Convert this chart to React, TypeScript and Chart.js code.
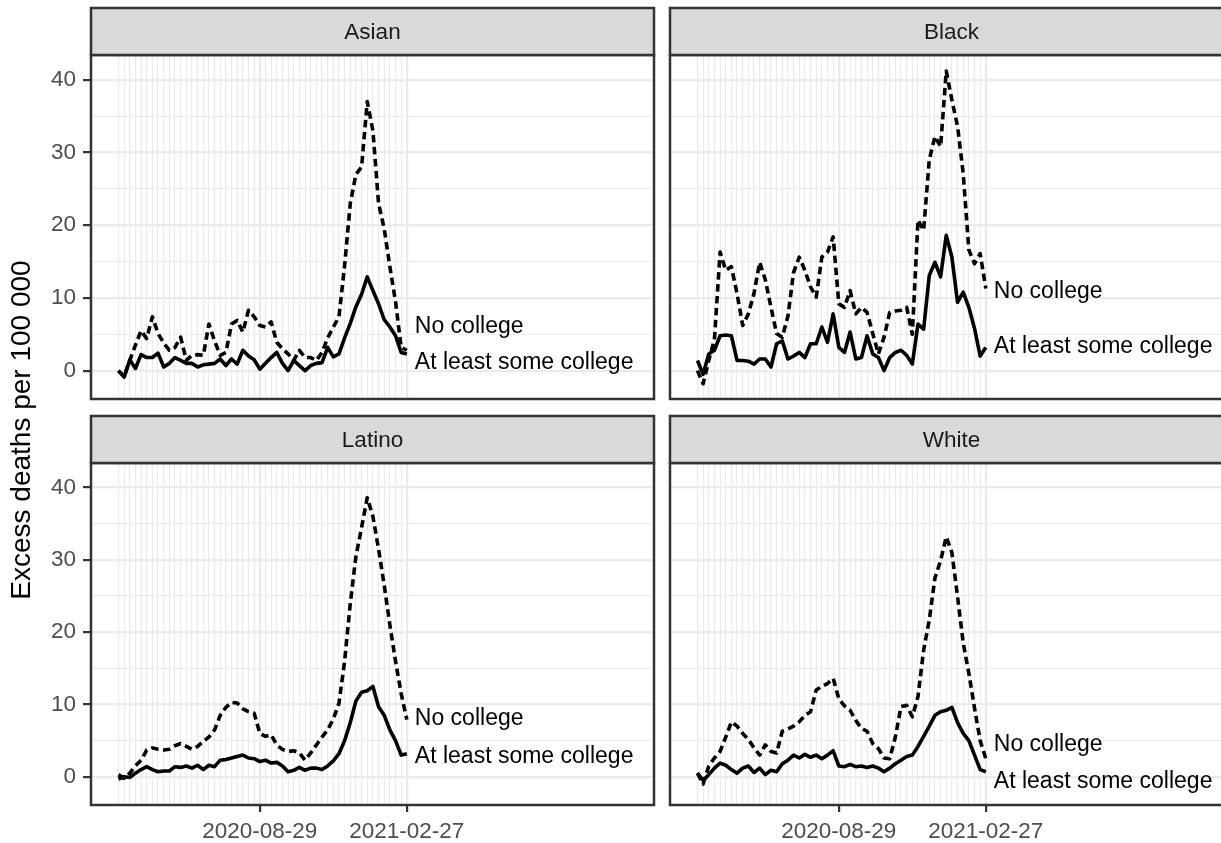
import React, { useEffect, useRef } from 'react';
import { Chart, registerables } from 'chart.js';

Chart.register(...registerables);

const FONT = "'Liberation Sans', Arial, 'DejaVu Sans', sans-serif";

// ---------- data ----------
const DATES = [
  '2020-03-07', '2020-03-14', '2020-03-21', '2020-03-28', '2020-04-04', '2020-04-11', '2020-04-18', '2020-04-25',
  '2020-05-02', '2020-05-09', '2020-05-16', '2020-05-23', '2020-05-30', '2020-06-06', '2020-06-13', '2020-06-20',
  '2020-06-27', '2020-07-04', '2020-07-11', '2020-07-18', '2020-07-25', '2020-08-01', '2020-08-08', '2020-08-15',
  '2020-08-22', '2020-08-29', '2020-09-05', '2020-09-12', '2020-09-19', '2020-09-26', '2020-10-03', '2020-10-10',
  '2020-10-17', '2020-10-24', '2020-10-31', '2020-11-07', '2020-11-14', '2020-11-21', '2020-11-28', '2020-12-05',
  '2020-12-12', '2020-12-19', '2020-12-26', '2021-01-02', '2021-01-09', '2021-01-16', '2021-01-23', '2021-01-30',
  '2021-02-06', '2021-02-13', '2021-02-20', '2021-02-27',
];
const MAJOR_DATES = ['2020-08-29', '2021-02-27'];
const X_LIMITS = ['2020-02-02', '2021-12-30'];
const Y_LIMITS = [-3.9, 43.4];
const Y_TICKS = [0, 5, 10, 15, 20, 25, 30, 35, 40];
const Y_LABELED = [0, 10, 20, 30, 40];
const Y_TITLE = 'Excess deaths per 100 000';
const SERIES_NAMES = ['No college', 'At least some college'];
const GROUPS = ['Asian', 'Black', 'Latino', 'White'];

const asianNoCollege = [0, -0.8, 1.4, 3.5, 5.5, 4.4, 7.4, 5.1, 3.8, 2.8, 3.2, 4.6, 1.4, 2.1, 2.2, 2.1, 6.4, 4.1, 2.1, 2.5, 6.4, 6.9, 5.3, 8.3, 7.4, 6.2, 6.0, 6.7, 3.9, 3.0, 2.3, 1.4, 2.8, 1.8, 1.8, 1.4, 2.5, 4.5, 6.0, 7.4, 14.5, 23.0, 27.0, 28.0, 37.0, 33.0, 23.0, 19.5, 14.3, 9.5, 3.2, 2.8];
const asianSomeCollege = [0, -0.9, 1.5, 0.3, 2.2, 1.8, 1.8, 2.4, 0.5, 1.0, 1.8, 1.4, 1.0, 1.0, 0.5, 0.8, 0.9, 1.0, 1.6, 0.7, 1.6, 0.9, 2.8, 2.0, 1.5, 0.2, 1.0, 1.8, 2.5, 1.0, 0.0, 1.4, 0.7, 0.0, 0.7, 1.0, 1.1, 3.2, 1.9, 2.3, 4.5, 6.5, 8.8, 10.5, 12.9, 11.0, 9.2, 7.0, 6.0, 4.8, 2.5, 2.3];
const blackNoCollege = [0, -1.8, 1.4, 4.3, 16.3, 13.8, 14.3, 10.6, 6.2, 7.8, 10.6, 14.9, 12.5, 8.7, 5.1, 4.6, 7.5, 13.5, 15.6, 13.8, 11.5, 10.1, 15.6, 16.3, 18.4, 9.2, 8.7, 11.0, 7.8, 8.7, 8.0, 5.1, 2.3, 4.6, 8.0, 8.2, 8.3, 8.7, 5.0, 20.7, 19.3, 29.0, 32.2, 30.8, 41.2, 37.2, 33.6, 27.1, 16.6, 14.7, 16.1, 11.3];
const blackSomeCollege = [1.4, -0.5, 2.3, 2.8, 4.8, 4.9, 4.8, 1.4, 1.4, 1.3, 0.9, 1.6, 1.6, 0.5, 3.7, 4.1, 1.6, 2.0, 2.5, 1.8, 3.7, 3.7, 6.0, 3.9, 7.8, 3.2, 2.5, 5.3, 1.6, 1.8, 4.8, 2.3, 1.8, 0.0, 1.8, 2.5, 2.8, 2.1, 0.9, 6.4, 5.7, 13.1, 14.9, 12.9, 18.6, 15.6, 9.4, 10.8, 8.7, 5.8, 2.0, 3.2];
const latinoNoCollege = [0.3, -0.2, 0.5, 1.5, 2.3, 3.7, 4.0, 3.8, 3.7, 3.8, 4.3, 4.6, 4.2, 3.8, 4.2, 4.9, 5.5, 6.5, 8.5, 9.6, 10.3, 10.2, 9.4, 9.0, 8.8, 6.0, 5.6, 5.8, 4.4, 3.8, 3.5, 3.6, 3.3, 2.3, 3.3, 4.4, 5.5, 6.5, 8.0, 10.2, 16.0, 24.0, 30.5, 34.5, 38.6, 36.0, 31.5, 26.5, 21.0, 16.0, 11.5, 7.9];
const latinoSomeCollege = [-0.3, 0.0, -0.1, 0.5, 1.0, 1.4, 1.0, 0.7, 0.8, 0.8, 1.4, 1.3, 1.5, 1.2, 1.6, 1.0, 1.6, 1.4, 2.3, 2.4, 2.6, 2.8, 3.0, 2.6, 2.5, 2.1, 2.3, 1.9, 2.0, 1.5, 0.7, 0.9, 1.3, 0.9, 1.2, 1.2, 1.0, 1.5, 2.2, 3.2, 5.0, 7.5, 10.5, 11.7, 11.9, 12.5, 9.7, 8.5, 6.5, 5.0, 3.0, 3.2];
const whiteNoCollege = [0.5, -1.0, 1.5, 2.6, 3.5, 5.5, 7.6, 7.0, 6.0, 5.2, 4.0, 3.0, 4.4, 3.5, 3.3, 6.3, 6.6, 7.0, 7.6, 8.5, 9.0, 12.0, 12.5, 12.9, 13.6, 10.8, 9.8, 9.2, 7.8, 6.7, 6.3, 4.6, 3.9, 2.6, 2.5, 5.5, 9.7, 9.9, 8.3, 11.1, 17.5, 21.7, 27.5, 29.9, 33.2, 31.0, 24.9, 18.5, 14.3, 9.5, 5.0, 2.5];
const whiteSomeCollege = [0.5, -0.5, 0.3, 1.2, 1.9, 1.6, 1.0, 0.5, 1.2, 1.5, 0.6, 1.2, 0.3, 0.9, 0.7, 1.8, 2.3, 3.0, 2.6, 3.1, 2.7, 3.0, 2.5, 3.0, 3.6, 1.5, 1.4, 1.7, 1.4, 1.5, 1.3, 1.5, 1.2, 0.7, 1.2, 1.8, 2.3, 2.8, 3.0, 4.2, 5.6, 7.0, 8.5, 9.0, 9.2, 9.6, 7.5, 6.0, 5.0, 3.0, 1.0, 0.7];

// y positions (data units) of the direct labels [No college, At least some college]
const asianLabelY = [6.1, 1.05];
const blackLabelY = [10.9, 3.3];
const latinoLabelY = [8.1, 2.8];
const whiteLabelY = [4.4, -0.7];

// ---------- layout ----------
const CW = 1240;
const CH = 843;
const PANEL_W = 563;
const STRIP_H = 47;
const Y_AXIS_W = 91;
const X_AXIS_H = 38;

const toDay = (s: string) => {
  const [y, m, d] = s.split('-').map(Number);
  return Date.UTC(y, m - 1, d) / 86400000;
};
const xDays = DATES.map(toDay);
const majorDays = MAJOR_DATES.map(toDay);

type Panel = {
  group: string;
  noCollege: number[];
  someCollege: number[];
  labelY: number[];
  left: number;
  top: number;
  bottom: number;
  showX: boolean;
  showY: boolean;
  title: boolean;
};

const PANELS: Panel[] = [
  { group: GROUPS[0], noCollege: asianNoCollege, someCollege: asianSomeCollege, labelY: asianLabelY, left: 91, top: 55, bottom: 399, showX: false, showY: true, title: true },
  { group: GROUPS[1], noCollege: blackNoCollege, someCollege: blackSomeCollege, labelY: blackLabelY, left: 670, top: 55, bottom: 399, showX: false, showY: false, title: false },
  { group: GROUPS[2], noCollege: latinoNoCollege, someCollege: latinoSomeCollege, labelY: latinoLabelY, left: 91, top: 463, bottom: 805, showX: true, showY: true, title: false },
  { group: GROUPS[3], noCollege: whiteNoCollege, someCollege: whiteSomeCollege, labelY: whiteLabelY, left: 670, top: 463, bottom: 805, showX: true, showY: false, title: false },
];

function makeChart(canvas: HTMLCanvasElement, p: Panel) {
  const yW = p.showY ? Y_AXIS_W : 0;
  const xH = p.showX ? X_AXIS_H : 0;
  const deco = {
    id: 'deco' + p.group,
    afterDraw(chart: any) {
      const { ctx, chartArea: a } = chart;
      ctx.save();
      // panel border
      ctx.strokeStyle = '#333333';
      ctx.lineWidth = 2.5;
      ctx.strokeRect(a.left, a.top, a.right - a.left, a.bottom - a.top);
      // strip
      ctx.fillStyle = '#D9D9D9';
      ctx.fillRect(a.left, a.top - STRIP_H, a.right - a.left, STRIP_H);
      ctx.strokeRect(a.left, a.top - STRIP_H, a.right - a.left, STRIP_H);
      ctx.fillStyle = '#1A1A1A';
      ctx.font = `22.5px ${FONT}`;
      ctx.textAlign = 'center';
      ctx.textBaseline = 'middle';
      ctx.fillText(p.group, (a.left + a.right) / 2, a.top - STRIP_H / 2 + 1);
      // direct labels
      const xs = chart.scales.x;
      const ys = chart.scales.y;
      const lx = xs.getPixelForValue(xDays[xDays.length - 1]) + 8;
      ctx.fillStyle = '#000000';
      ctx.textAlign = 'left';
      ctx.font = `23px ${FONT}`;
      SERIES_NAMES.forEach((name, k) => {
        ctx.fillText(name, lx, ys.getPixelForValue(p.labelY[k]));
      });
      // global y title
      if (p.title) {
        ctx.translate(22, 430);
        ctx.rotate(-Math.PI / 2);
        ctx.font = `28px ${FONT}`;
        ctx.textAlign = 'center';
        ctx.textBaseline = 'middle';
        ctx.fillText(Y_TITLE, 0, 0);
      }
      ctx.restore();
    },
  };

  const isMajorX = (c: any) => !!(c && c.tick && majorDays.includes(c.tick.value));
  const isMajorY = (c: any) => !!(c && c.tick && Y_LABELED.includes(c.tick.value));

  return new Chart(canvas, {
    type: 'line',
    data: {
      datasets: [
        {
          label: SERIES_NAMES[0],
          data: p.noCollege.map((v, i) => ({ x: xDays[i], y: v })),
          borderColor: '#000000',
          borderWidth: 3.6,
          borderDash: [7.5, 4.5],
          borderJoinStyle: 'round',
          pointRadius: 0,
          fill: false,
          tension: 0,
        },
        {
          label: SERIES_NAMES[1],
          data: p.someCollege.map((v, i) => ({ x: xDays[i], y: v })),
          borderColor: '#000000',
          borderWidth: 3.6,
          borderJoinStyle: 'round',
          pointRadius: 0,
          fill: false,
          tension: 0,
        },
      ],
    },
    options: {
      responsive: false,
      animation: false,
      devicePixelRatio: 1,
      layout: {
        padding: {
          left: p.left - yW,
          right: CW - (p.left + PANEL_W),
          top: p.top,
          bottom: CH - p.bottom - xH,
        },
      },
      plugins: { legend: { display: false }, tooltip: { enabled: false } },
      scales: {
        x: {
          type: 'linear',
          min: toDay(X_LIMITS[0]),
          max: toDay(X_LIMITS[1]),
          afterBuildTicks: (s: any) => {
            s.ticks = xDays.map((v) => ({ value: v }));
          },
          afterFit: (s: any) => {
            s.height = xH;
          },
          grid: {
            color: '#EBEBEB',
            lineWidth: (c: any) => (isMajorX(c) ? 2.2 : 1.1),
            drawTicks: p.showX,
            tickLength: 7,
            tickWidth: 2.2,
            tickColor: (c: any) => (isMajorX(c) ? '#333333' : 'rgba(0,0,0,0)'),
          },
          border: { display: false },
          ticks: {
            display: p.showX,
            autoSkip: false,
            maxRotation: 0,
            minRotation: 0,
            padding: 6,
            color: '#4D4D4D',
            font: { size: 22.5, family: FONT },
            callback: (v: any) => {
              const i = xDays.indexOf(v);
              return i >= 0 && MAJOR_DATES.includes(DATES[i]) ? DATES[i] : '';
            },
          },
        },
        y: {
          type: 'linear',
          min: Y_LIMITS[0],
          max: Y_LIMITS[1],
          afterBuildTicks: (s: any) => {
            s.ticks = Y_TICKS.map((v) => ({ value: v }));
          },
          afterFit: (s: any) => {
            s.width = yW;
          },
          grid: {
            color: '#EBEBEB',
            lineWidth: (c: any) => (isMajorY(c) ? 2.2 : 1.1),
            drawTicks: p.showY,
            tickLength: 8,
            tickWidth: 2.2,
            tickColor: (c: any) => (isMajorY(c) ? '#333333' : 'rgba(0,0,0,0)'),
          },
          border: { display: false },
          ticks: {
            display: p.showY,
            padding: 7,
            color: '#4D4D4D',
            font: { size: 22.5, family: FONT },
            callback: (v: any) => (Y_LABELED.includes(v) ? String(v) : ''),
          },
        },
      },
    },
    plugins: [deco],
  } as any);
}

function PanelCanvas({ panel }: { panel: Panel }) {
  const ref = useRef<HTMLCanvasElement | null>(null);
  useEffect(() => {
    if (!ref.current) return;
    const chart = makeChart(ref.current, panel);
    return () => chart.destroy();
  }, [panel]);
  return (
    <canvas
      ref={ref}
      width={CW}
      height={CH}
      style={{ position: 'absolute', left: 0, top: 0, width: CW, height: CH }}
    />
  );
}

export default function App() {
  return (
    <div
      style={{
        position: 'absolute',
        left: 0,
        top: 0,
        width: 1221,
        height: 843,
        overflow: 'hidden',
        background: '#ffffff',
      }}
    >
      {PANELS.map((p) => (
        <PanelCanvas key={p.group} panel={p} />
      ))}
    </div>
  );
}
